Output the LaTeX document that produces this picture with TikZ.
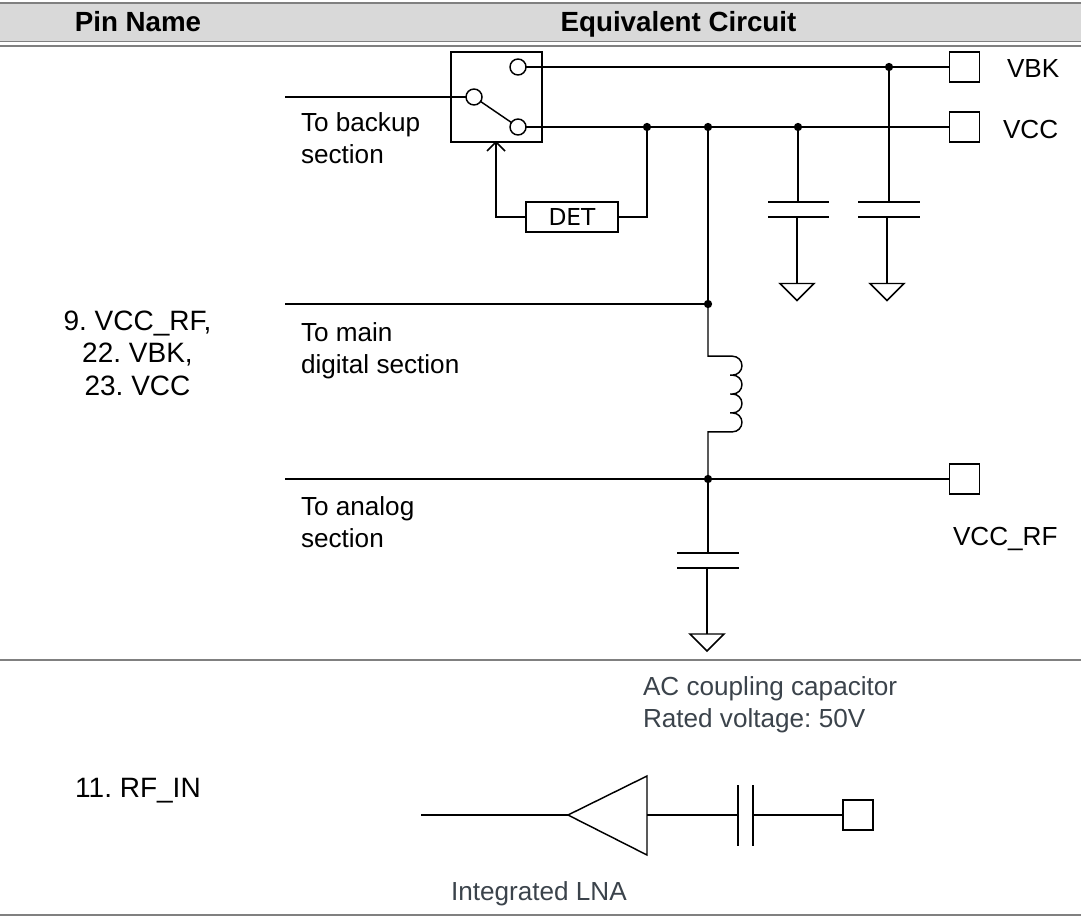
\documentclass[tikz,border=0pt]{standalone}
\usepackage{fontspec}
\setmainfont{Liberation Sans}
\newfontfamily\detfont{DejaVu Sans}
\tikzset{
  wire/.style={draw=black,line width=1.1pt},
  rule/.style={draw=ruleGray,line width=1.3pt},
  pad/.style={draw=black,line width=1.1pt,fill=white,minimum size=22.5pt,inner sep=0pt,outer sep=0pt},
  contact/.style={circle,draw=black,line width=1.1pt,fill=white,minimum size=12pt,inner sep=0pt,outer sep=0pt},
  dot/.style={circle,fill=black,minimum size=6.2pt,inner sep=0pt,outer sep=0pt},
  lab/.style={inner sep=0pt,outer sep=0pt,anchor=base west,font=\fontsize{19.6}{23}\selectfont\frenchspacing},
  labm/.style={inner sep=0pt,outer sep=0pt,anchor=base,font=\fontsize{21}{24}\selectfont\frenchspacing},
  labd/.style={lab,text=noteGray},
  head/.style={inner sep=0pt,outer sep=0pt,anchor=base,font=\fontsize{20.8}{24}\selectfont\bfseries},
  gnd/.pic={\draw[wire,line join=miter] (-17,0) -- (17,0) -- (0,17) -- cycle;},
}
\definecolor{ruleGray}{HTML}{808080}
\definecolor{headFill}{HTML}{D9D9D9}
\definecolor{noteGray}{HTML}{3B434B}
\begin{document}
\begin{tikzpicture}[x=0.75pt,y=-0.75pt]
\useasboundingbox (0,0) rectangle (1081,917);
% table
\fill[headFill] (0,3) rectangle (1081,41);
\draw[rule] (0,3) -- (1081,3);
\draw[rule] (0,41.5) -- (1081,41.5);
\draw[rule] (0,46) -- (1081,46);
\draw[rule] (0,660) -- (1081,660);
\draw[rule] (0,915) -- (1081,915);
\node[head] (h1) at (138,32) {Pin Name};
\node[head] (h2) at (678.5,32) {Equivalent Circuit};
% switch
\node[draw=black,line width=1.1pt,minimum width=68.25pt,minimum height=67.5pt,inner sep=0pt,outer sep=0pt] (sw) at (496.5,97) {};
\node[contact] (c1) at (518,67) {};
\node[contact] (c2) at (474,97) {};
\node[contact] (c3) at (518,127) {};
\draw[wire] (c2) -- (c3);
% pads
\node[pad] (vbk) at (964.5,67) {};
\node[pad] (vcc) at (964.5,127) {};
\node[pad] (vrf) at (964.5,479) {};
\node[pad] (rfp) at (858,815) {};
% dots
\node[dot] (j1) at (889,67) {};
\node[dot] (j2) at (647,127) {};
\node[dot] (j3) at (708,127) {};
\node[dot] (j4) at (798,127) {};
\node[dot] (j5) at (708,304) {};
\node[dot] (j6) at (708,479) {};
% free ends
\coordinate (l1) at (285,97);
\coordinate (l2) at (285,304);
\coordinate (l3) at (285,479);
\draw[wire] (l1) -- (c2);
\draw[wire] (c1) -- (vbk);
\draw[wire] (c3) -- (vcc);
\draw[wire] (l2) -- (j5);
\draw[wire] (l3) -- (vrf);
\draw[wire] (j3) -- (j5);
% DET
\node[draw=black,line width=1.1pt,minimum width=69pt,minimum height=22.5pt,inner sep=0pt,outer sep=0pt,font=\fontsize{17.5}{20}\detfont] (det) at (572,217) {DET};
\coordinate (a1) at (496,217);
\coordinate (a2) at (496,142);
\coordinate (a3) at (647,217);
\draw[wire] (det.west) -- (a1) -- (a2);
\draw[wire] (487,151) -- (a2) -- (505,151);
\draw[wire] (det.east) -- (a3) -- (j2);
% caps
\draw[wire] (j4) -- (798,202);
\draw[wire] (768,202) -- (829,202);
\draw[wire] (768,217) -- (829,217);
\draw[wire] (797,217) -- (797,283.5);
\pic at (797,283.5) {gnd};
\draw[wire] (j1) -- (889,202);
\draw[wire] (858,202) -- (920,202);
\draw[wire] (858,217) -- (920,217);
\draw[wire] (887,217) -- (887,283.5);
\pic at (887,283.5) {gnd};
% inductor
\draw[wire] (j5) -- (708,356.2) -- (732.5,356.2)
  arc[start angle=90,end angle=-90,radius=7.1pt] -- (730,375.1) -- (732.5,375.1)
  arc[start angle=90,end angle=-90,radius=7.1pt] -- (730,394) -- (732.5,394)
  arc[start angle=90,end angle=-90,radius=7.1pt] -- (730,412.9) -- (732.5,412.9)
  arc[start angle=90,end angle=-90,radius=7.1pt] -- (708,431.8) -- (j6);
% lower cap
\draw[wire] (j6) -- (708,553);
\draw[wire] (677,553) -- (739,553);
\draw[wire] (677,568) -- (739,568);
\draw[wire] (707,568) -- (707,634);
\pic at (707,634) {gnd};
% LNA
\coordinate (t1) at (568,815);
\coordinate (t2) at (647,776);
\coordinate (t3) at (647,855);
\coordinate (t4) at (647,815);
\coordinate (p1) at (738,815);
\coordinate (p2) at (753,815);
\coordinate (in) at (421,815);
\draw[wire] (in) -- (t1);
\draw[wire,line join=miter] (t1) -- (t2) -- (t3) -- cycle;
\draw[wire] (t4) -- (p1);
\draw[wire] (738,785) -- (738,846);
\draw[wire] (753,785) -- (753,846);
\draw[wire] (p2) -- (rfp);
% labels
\node[lab] (t_a) at (301,132) {To backup};
\node[lab] (t_b) at (301,163) {section};
\node[lab] (t_c) at (301,341) {To main};
\node[lab] (t_d) at (301,373) {digital section};
\node[lab] (t_e) at (301,515) {To analog};
\node[lab] (t_f) at (301,547) {section};
\node[lab] (t_g) at (1007,78) {VBK};
\node[lab] (t_h) at (1003,138) {VCC};
\node[lab] (t_i) at (953,545) {VCC\_RF};
\node[labm] (t_j) at (137.5,330) {9. VCC\_RF,};
\node[labm] (t_k) at (137.5,362.5) {22. VBK,};
\node[labm] (t_l) at (137.5,395) {23. VCC};
\node[labm] (t_m) at (138,797) {11. RF\_IN};
\node[labd] (t_n) at (643,695) {AC coupling capacitor};
\node[labd] (t_o) at (643,727) {Rated voltage: 50V};
\node[labd] (t_p) at (451,900) {Integrated LNA};
\end{tikzpicture}
\end{document}
